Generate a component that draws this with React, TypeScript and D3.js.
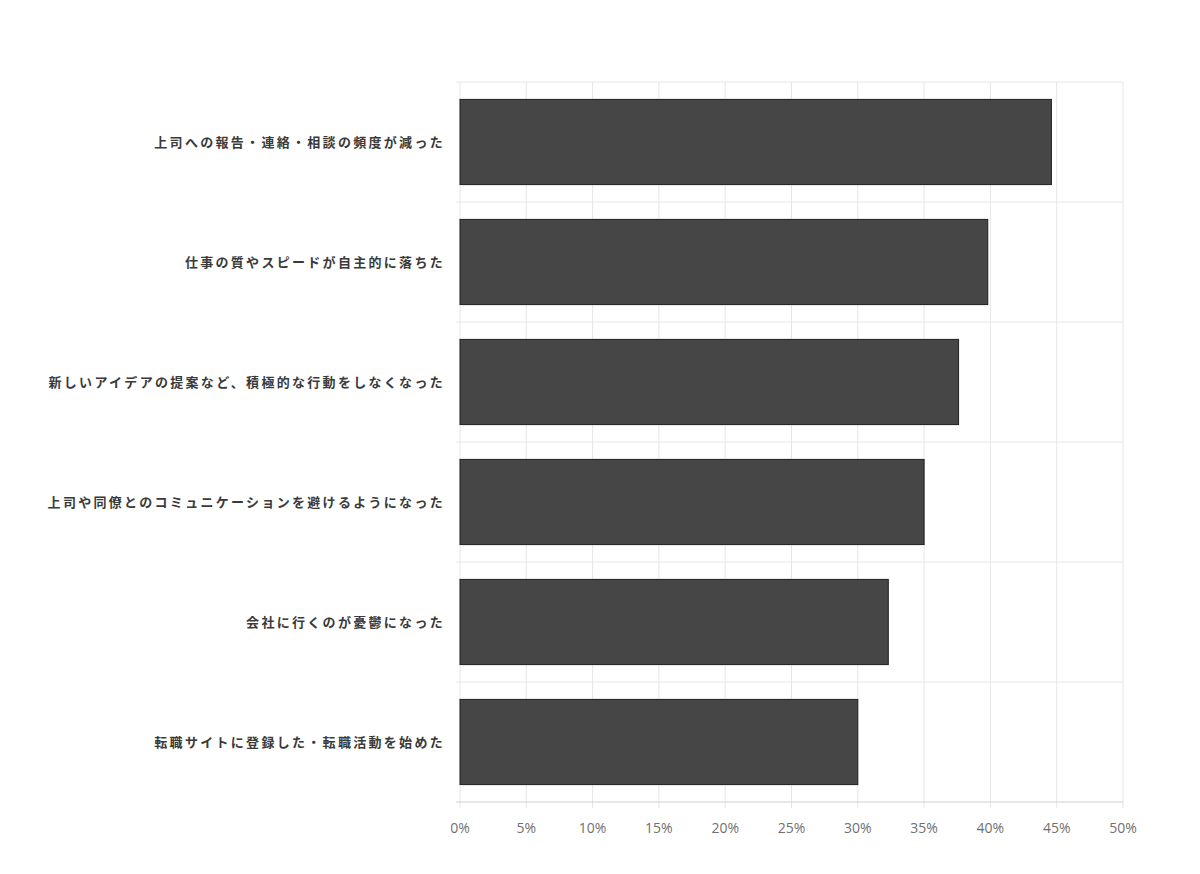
import React, { useEffect, useRef } from 'react';
import * as d3 from 'd3';

// categories top -> bottom
const categories = [
  '上司への報告・連絡・相談の頻度が減った',
  '仕事の質やスピードが自主的に落ちた',
  '新しいアイデアの提案など、積極的な行動をしなくなった',
  '上司や同僚とのコミュニケーションを避けるようになった',
  '会社に行くのが憂鬱になった',
  '転職サイトに登録した・転職活動を始めた',
];

// percent values
const values = [44.6, 39.8, 37.6, 35.0, 32.3, 30.0];

const xTicks = [0, 5, 10, 15, 20, 25, 30, 35, 40, 45, 50];

const App: React.FC = () => {
  const svgRef = useRef<SVGSVGElement>(null);

  useEffect(() => {
    if (!svgRef.current) return;
    const width = 1200;
    const height = 874;
    const margin = { top: 82, right: 77, bottom: 72, left: 460 };

    const svg = d3.select(svgRef.current);
    svg.selectAll('*').remove();

    const x = d3
      .scaleLinear()
      .domain([0, 50])
      .range([margin.left, width - margin.right]);

    const y = d3
      .scaleBand<string>()
      .domain(categories)
      .range([margin.top, height - margin.bottom])
      .paddingInner(0.29)
      .paddingOuter(0.145);

    const g = svg.append('g');

    // vertical grid lines
    g.selectAll('line.vgrid')
      .data(xTicks)
      .enter()
      .append('line')
      .attr('class', 'vgrid')
      .attr('x1', (d) => x(d))
      .attr('x2', (d) => x(d))
      .attr('y1', margin.top)
      .attr('y2', height - margin.bottom + 6)
      .style('stroke', '#e6e6e6')
      .style('stroke-width', '1px');

    // horizontal grid lines between the bands
    const hLines = categories.map((_, i) => margin.top + i * y.step());
    g.selectAll('line.hgrid')
      .data(hLines)
      .enter()
      .append('line')
      .attr('class', 'hgrid')
      .attr('x1', x(0) - 4)
      .attr('x2', x(50))
      .attr('y1', (d) => d)
      .attr('y2', (d) => d)
      .style('stroke', '#e6e6e6')
      .style('stroke-width', '1px');

    // x axis line
    g.append('line')
      .attr('x1', x(0) - 4)
      .attr('x2', x(50))
      .attr('y1', height - margin.bottom)
      .attr('y2', height - margin.bottom)
      .style('stroke', '#d0d0d0')
      .style('stroke-width', '1px');

    // bars
    g.selectAll('rect.bar')
      .data(values)
      .enter()
      .append('rect')
      .attr('class', 'bar')
      .attr('x', x(0))
      .attr('y', (d, i) => y(categories[i]) || 0)
      .attr('width', (d) => x(d) - x(0))
      .attr('height', y.bandwidth())
      .style('fill', '#464646')
      .style('stroke', '#1e1e1e')
      .style('stroke-width', '1px');

    // category labels
    g.selectAll('text.cat')
      .data(categories)
      .enter()
      .append('text')
      .attr('class', 'cat')
      .attr('x', margin.left - 15)
      .attr('y', (d) => (y(d) || 0) + y.bandwidth() / 2)
      .attr('dy', '0.35em')
      .attr('text-anchor', 'end')
      .style('font-family', "'Noto Sans CJK JP', sans-serif")
      .style('font-size', '13px')
      .style('font-weight', '700')
      .style('letter-spacing', '2.3px')
      .style('fill', '#3a3a3a')
      .text((d) => d);

    // tick labels
    g.selectAll('text.tick')
      .data(xTicks)
      .enter()
      .append('text')
      .attr('class', 'tick')
      .attr('x', (d) => x(d))
      .attr('y', height - margin.bottom + 26)
      .attr('dy', '0.35em')
      .attr('text-anchor', 'middle')
      .style('font-family', "'Open Sans', sans-serif")
      .style('font-size', '14px')
      .style('fill', '#707070')
      .text((d) => `${d}%`);
  }, []);

  return (
    <div style={{ position: 'absolute', top: 0, left: 0 }}>
      <svg ref={svgRef} width={1200} height={874} style={{ background: '#fff', display: 'block' }} />
    </div>
  );
};

export default App;
